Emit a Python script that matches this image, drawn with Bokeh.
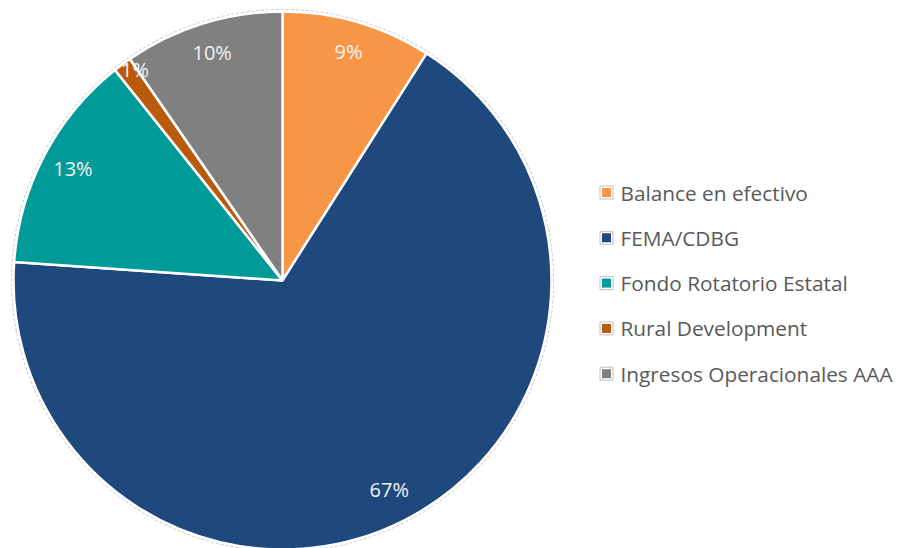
import numpy as np
from bokeh.plotting import figure
from bokeh.models import Range1d, ColumnDataSource
from bokeh.embed import file_html
from bokeh.resources import INLINE
from bokeh.core.properties import value

categories = ["Balance en efectivo", "FEMA/CDBG", "Fondo Rotatorio Estatal",
              "Rural Development", "Ingresos Operacionales AAA"]
shares = [9.0, 67.1, 13.2, 1.1, 9.6]
labels = ["9%", "67%", "13%", "1%", "10%"]
colors = ["#F79646", "#1F497D", "#009A99", "#B85B0C", "#808080"]

W, H = 897, 548
FONT = "Open Sans"
p = figure(width=W, height=H, x_range=Range1d(0, W), y_range=Range1d(0, H),
           output_backend="svg", toolbar_location=None, min_border=0)
p.axis.visible = False
p.grid.visible = False
p.outline_line_color = None
p.background_fill_color = "white"

cx, cy, R = 282, H - 280, 269
frac = np.array(shares) / sum(shares)
cum = np.concatenate([[0.0], np.cumsum(frac)])
start = np.pi / 2 - 2 * np.pi * cum[:-1]
end = np.pi / 2 - 2 * np.pi * cum[1:]
mid = (start + end) / 2
small = frac < 0.02
rl = np.where(small, 0.965 * R, 0.88 * R)
xoff = np.where(small, 7, 0)

src = ColumnDataSource(dict(cat=categories, start=start, end=end, color=colors,
                            lx=cx + rl * np.cos(mid), ly=cy + rl * np.sin(mid),
                            lab=labels, xoff=xoff))

p.circle(x=cx, y=cy, radius=R + 2, fill_color=None, line_color="#C8C8C8",
         line_dash="3 2", line_width=1)
p.wedge(x=cx, y=cy, radius=R, start_angle="start", end_angle="end",
        direction="clock", fill_color="color", line_color="white",
        line_width=2.5, source=src)
p.text(x="lx", y="ly", text="lab", source=src, text_align="center",
       text_baseline="middle", text_color="#F2F2F2", text_font=value(FONT),
       text_font_size="20px", x_offset="xoff", y_offset=-2)

# legend
n = len(categories)
ly0, step = H - 192, 45.3
leg_y = [ly0 - i * step for i in range(n)]
leg = ColumnDataSource(dict(y=leg_y, color=colors, cat=categories,
                            x=[606] * n, tx=[620] * n))
p.scatter(x="x", y="y", source=leg, marker="square", size=13,
          fill_color="white", line_color="#BFBFBF", line_width=1)
p.scatter(x="x", y="y", source=leg, marker="square", size=9,
          fill_color="color", line_color=None)
p.text(x="tx", y="y", text="cat", source=leg, text_align="left",
       text_baseline="middle", text_color="#595959", text_font=value(FONT),
       text_font_size="20.8px")

open("out.html", "w").write(file_html(p, INLINE))
